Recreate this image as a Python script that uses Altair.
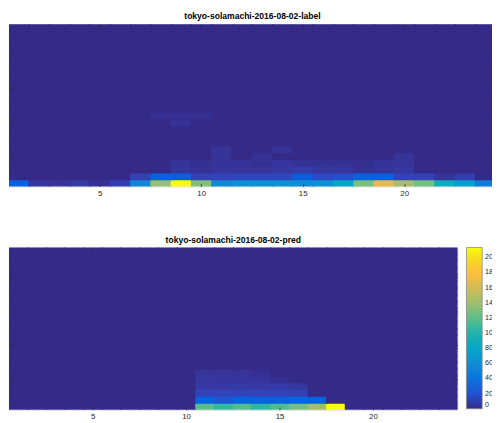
import altair as alt
import pandas as pd

# ---- data ----
COLS = list(range(1, 25))
ROWS = list(range(1, 25))
TICKS = [5, 10, 15, 20]
CBAR_TICKS = [0, 20, 40, 60, 80, 100, 120, 140, 160, 180, 200]

label_title = "tokyo-solamachi-2016-08-02-label"
pred_title = "tokyo-solamachi-2016-08-02-pred"

# label panel, rows from bottom (row 1) upward; rows not listed are 0
label_r1 = [26, 6, 5, 7, 4, 11, 54, 137, 214, 131, 58, 64, 64, 64, 60, 64, 81, 128, 169, 143, 126, 90, 73, 47]
label_r2 = [0, 0, 0, 0, 0, 0, 12, 27, 25, 13, 13, 15, 15, 15, 25, 16, 19, 27, 26, 13, 13, 5, 10, 0]
label_r3 = [0, 0, 0, 0, 0, 0, 0, 0, 6, 4, 6, 5, 5, 7, 9, 7, 7, 4, 6, 7, 0, 0, 0, 0]
label_r4 = [0, 0, 0, 0, 0, 0, 0, 0, 5, 3, 5, 5, 3, 6, 4, 4, 4, 2, 5, 5, 0, 0, 0, 0]
label_r5 = [0, 0, 0, 0, 0, 0, 0, 0, 0, 0, 5, 0, 4, 0, 0, 0, 0, 0, 0, 5, 0, 0, 0, 0]
label_r6 = [0, 0, 0, 0, 0, 0, 0, 0, 0, 0, 5, 0, 0, 5, 0, 0, 0, 0, 0, 0, 0, 0, 0, 0]
label_r7 = [0] * 24
label_r8 = [0] * 24
label_r9 = [0] * 24
label_r10 = [0, 0, 0, 0, 0, 0, 0, 0, 4, 0, 0, 0, 0, 0, 0, 0, 0, 0, 0, 0, 0, 0, 0, 0]
label_r11 = [0, 0, 0, 0, 0, 0, 0, 3, 3, 3, 0, 0, 0, 0, 0, 0, 0, 0, 0, 0, 0, 0, 0, 0]

pred_r1 = [0, 0, 0, 0, 0, 0, 0, 0, 0, 0, 119, 107, 117, 104, 115, 126, 141, 213, 0, 0, 0, 0, 0, 0]
pred_r2 = [0, 0, 0, 0, 0, 0, 0, 0, 0, 0, 28, 21, 28, 26, 26, 30, 28, 0, 0, 0, 0, 0, 0, 0]
pred_r3 = [0, 0, 0, 0, 0, 0, 0, 0, 0, 0, 13, 14, 13, 13, 13, 12, 0, 0, 0, 0, 0, 0, 0, 0]
pred_r4 = [0, 0, 0, 0, 0, 0, 0, 0, 0, 0, 8, 8, 9, 8, 9, 7, 0, 0, 0, 0, 0, 0, 0, 0]
pred_r5 = [0, 0, 0, 0, 0, 0, 0, 0, 0, 0, 7, 6, 6, 6, 3, 0, 0, 0, 0, 0, 0, 0, 0, 0]
pred_r6 = [0, 0, 0, 0, 0, 0, 0, 0, 0, 0, 5, 5, 5, 3, 0, 0, 0, 0, 0, 0, 0, 0, 0, 0]

label_rows = [label_r1, label_r2, label_r3, label_r4, label_r5, label_r6,
              label_r7, label_r8, label_r9, label_r10, label_r11]
pred_rows = [pred_r1, pred_r2, pred_r3, pred_r4, pred_r5, pred_r6]

# parula colormap (style)
PARULA = [
    "#352A87", "#363093", "#3637A0", "#353DAD", "#3243BA", "#2C4AC7", "#2053D4", "#0F5CDD",
    "#0363E1", "#0268E1", "#046DE0", "#0871DE", "#0D75DC", "#1079DA", "#127DD8", "#1481D6",
    "#1485D4", "#1389D3", "#108ED2", "#0C93D2", "#0998D1", "#079CCF", "#06A0CD", "#06A4CA",
    "#06A7C6", "#07A9C2", "#0AACBE", "#0FAEB9", "#15B1B4", "#1DB3AF", "#25B5A9", "#2EB7A4",
    "#38B99E", "#42BB98", "#4DBC92", "#59BD8C", "#65BE86", "#71BF80", "#7CBF7B", "#87BF77",
    "#92BF73", "#9CBF6F", "#A5BE6B", "#AEBE67", "#B7BD64", "#C0BC60", "#C8BC5D", "#D1BB59",
    "#D9BA56", "#E1B952", "#E9B94E", "#F1B94A", "#F8BB44", "#FDBE3D", "#FFC337", "#FEC832",
    "#FCCE2E", "#FAD32A", "#F7D826", "#F5DE21", "#F5E41D", "#F5EB18", "#F6F313", "#F9FB0E",
]

FONT = "Liberation Sans"
TXT = "#262626"


def frame(rows_list):
    recs = []
    for r in ROWS:
        vals = rows_list[r - 1] if r <= len(rows_list) else [0] * len(COLS)
        for c in COLS:
            recs.append({"col": c, "row": r, "value": vals[c - 1]})
    return pd.DataFrame(recs)


def tick_axis(orient, labels):
    return alt.Axis(
        orient=orient, values=TICKS, title=None, labels=labels, labelAngle=0,
        domain=False, grid=False, offset=-3, tickSize=3, tickWidth=0.7,
        tickColor=TXT, labelPadding=3, labelFont=FONT, labelFontSize=8,
        labelColor=TXT,
    )


def panel(df, title, width, vmax, legend):
    xs = alt.Scale(paddingInner=0, paddingOuter=0)
    ys = alt.Scale(paddingInner=0, paddingOuter=0)
    cscale = alt.Scale(domain=[0, vmax], range=PARULA, nice=False, zero=True)
    base = alt.Chart(df)
    heat = base.mark_rect(
        width={"band": 1.07}, height={"band": 1.18}, clip=True
    ).encode(
        x=alt.X("col:O", scale=xs, axis=tick_axis("bottom", True)),
        y=alt.Y("row:O", sort="descending", scale=ys, axis=tick_axis("left", True)),
        color=alt.Color("value:Q", scale=cscale, legend=legend),
    )
    frame_ticks = base.mark_rect(opacity=0).encode(
        x=alt.X("col:O", scale=xs, axis=tick_axis("top", False)),
        y=alt.Y("row:O", sort="descending", scale=ys, axis=tick_axis("right", False)),
    )
    return (
        alt.layer(heat, frame_ticks)
        .resolve_axis(x="independent", y="independent")
        .properties(
            width=width, height=165,
            title=alt.TitleParams(title, font=FONT, fontSize=8.7, fontWeight="bold",
                                  color="black", offset=3, anchor="middle"),
        )
    )


label_df = frame(label_rows)
pred_df = frame(pred_rows)

cbar = alt.Legend(
    orient="right", type="gradient", direction="vertical", title=None,
    gradientLength=164, gradientThickness=16, values=CBAR_TICKS,
    labelFont=FONT, labelFontSize=7.2, labelColor=TXT, labelOffset=3,
    labelBaseline="middle", labelOverlap=False, offset=8, padding=0,
    gradientStrokeColor="#888888", gradientStrokeWidth=0.8,
)

top = panel(label_df, label_title, 495, max(label_r1), None)
bottom = panel(pred_df, pred_title, 456, max(pred_r1), cbar)

chart = (
    alt.vconcat(top, bottom, spacing=62, bounds="flush")
    .resolve_scale(color="independent")
    .properties(
        autosize=alt.AutoSizeParams(type="none"),
        padding={"left": 1, "top": 13, "right": 491, "bottom": 402},
    )
    .configure_view(fill="#352A87", stroke="#8a8a8a", strokeWidth=0.8)
    .configure(background="white")
)

chart.save("out.html", embed_options={"renderer": "svg", "actions": False})
